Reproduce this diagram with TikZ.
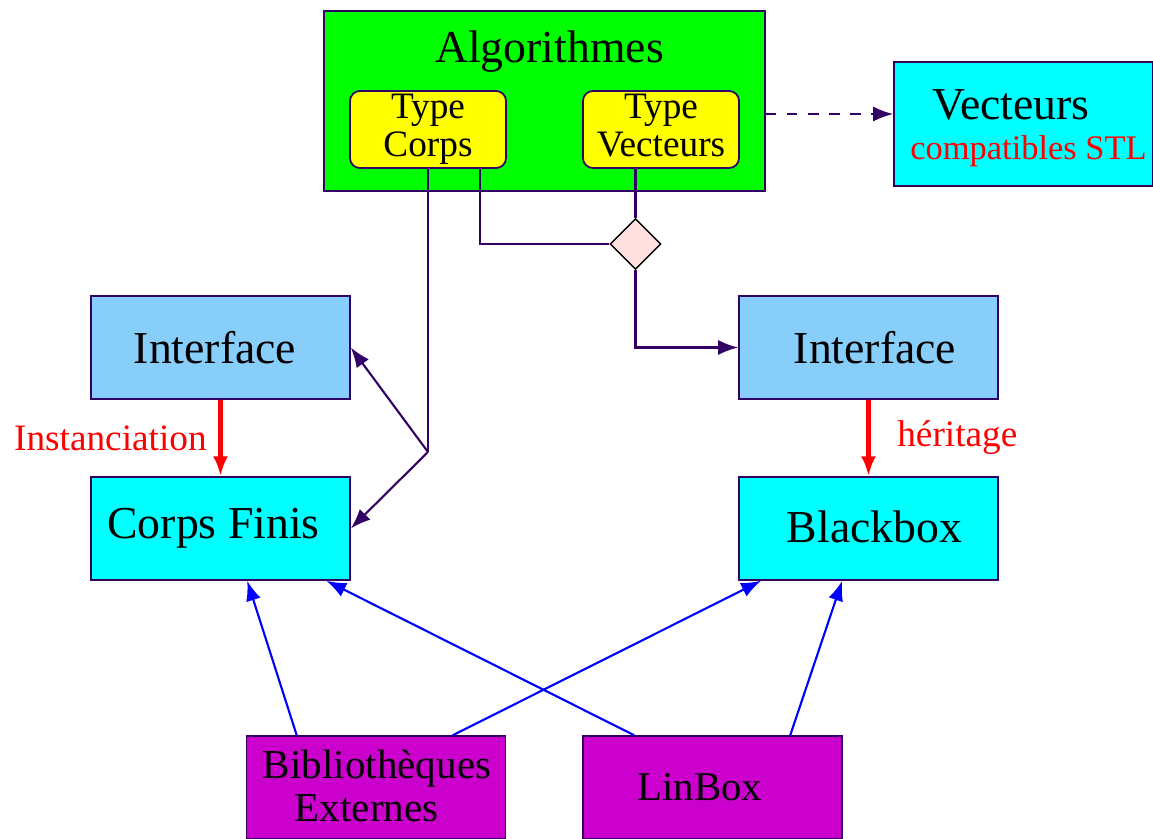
\documentclass[tikz,border=0pt]{standalone}
\usepackage{fontspec}
\setmainfont{Liberation Serif}
\usetikzlibrary{calc}
\usetikzlibrary{arrows.meta}
\usetikzlibrary{shapes.geometric}
\usepackage{xcolor}

\definecolor{lienviolet}{RGB}{51,0,102}
\definecolor{vertalgo}{RGB}{0,255,0}
\definecolor{jaunetype}{RGB}{255,255,0}
\definecolor{cyanboite}{RGB}{0,255,255}
\definecolor{bleuiface}{RGB}{135,206,250}
\definecolor{magentalib}{RGB}{204,0,204}
\definecolor{roselosange}{RGB}{255,224,224}

\begin{document}
\begin{tikzpicture}[x=.01cm, y=-.01cm,
 boite/.style={draw=lienviolet, line width=.4pt, inner sep=0, minimum width=2.59cm, minimum height=1.03cm},
 etiq/.style={font=\fontsize{13}{15}\selectfont},
 typebox/.style={draw=lienviolet, line width=.5pt, fill=jaunetype, rounded corners=.1cm, inner sep=0, minimum width=1.56cm, minimum height=.77cm, align=center, font=\fontsize{10.6}{10.8}\selectfont},
 lien/.style={lienviolet, line width=.6pt},
 herite/.style={->, red, line width=1.2pt},
 impl/.style={->, blue, line width=.6pt},
 >={Latex[length=2mm,width=1.5mm]}]
\useasboundingbox (0,0) rectangle (1153,839);

% bloc des algorithmes et ses deux types
\node[boite, fill=vertalgo, minimum width=4.41cm, minimum height=1.8cm,
 label={[etiq, xshift=.5mm, yshift=-.74cm]north:Algorithmes}] (alg) at (544.5,101) {};
\node[typebox] (tcorps) at (428,129.5) {Type\\Corps};
\node[typebox] (tvect) at (661,129.5) {Type\\Vecteurs\vphantom{p}};
\node[boite, fill=cyanboite, minimum height=1.24cm,
 label={[etiq, align=left, xshift=.5mm, yshift=-.45mm]center:{\hspace*{2.2mm}Vecteurs\\[-3.6pt]{\color{red}\fontsize{9.8}{12}\selectfont compatibles STL}}}] (vect) at (1023.5,124) {};
\node[diamond, draw=black, line width=.4pt, fill=roselosange, inner sep=0, minimum size=.51cm] (los) at (635.5,244) {};

% interfaces et implantations
\node[boite, fill=bleuiface, label={[etiq, xshift=-.55mm]center:Interface}] (ifl) at (220.5,347.5) {};
\node[boite, fill=bleuiface, label={[etiq, xshift=.65mm]center:Interface}] (ifr) at (868.5,347.5) {};
\node[boite, fill=cyanboite, label={[etiq, xshift=-.7mm]center:Corps Finis}] (cf) at (220.5,528.5) {};
\node[boite, fill=cyanboite, label={[etiq, xshift=.6mm, yshift=.2mm]center:Blackbox}] (bb) at (868.5,528.5) {};
\node[boite, fill=magentalib, label={[font=\fontsize{11.7}{12.2}\selectfont, align=left, xshift=.1mm, yshift=.2mm]center:{Biblioth\`eques\\\hspace*{3.2mm}Externes}}] (bib) at (376,787.5) {};
\node[boite, fill=magentalib, label={[font=\fontsize{11.6}{13}\selectfont, xshift=-1.25mm]center:LinBox}] (lin) at (712.5,787.5) {};

% liens du haut
\coordinate (vbout) at ($(vect.west)+(0,-10)$);
\draw[->, lien, dashed] (alg.east |- vbout) -- (vbout);
\coordinate (fourche) at (428,452);
\draw[lien] (tcorps.south) -- (fourche);
\draw[->, lien] (fourche) -- (ifl.east);
\draw[->, lien] (fourche) -- (cf.east);
\draw[lien] (tcorps.south) ++(52,0) |- (los.west);
\draw[lien] (los.north |- tvect.south) -- (los.north);
\draw[->, lien] (los.south) |- (ifr.west);

% instanciation / heritage
\draw[herite] (ifl.south) -- node[left, text=red, font=\fontsize{10.6}{12}\selectfont] {Instanciation} (cf.north);
\draw[herite] (ifr.south) -- node[right, xshift=.15cm, text=red, font=\fontsize{10.6}{12}\selectfont] {h\'eritage} (bb.north);

% bibliotheques vers corps finis et blackbox
\draw[impl] ($(bib.north west)+(51,0)$) -- ($(cf.south west)+(157,0)$);
\draw[impl] ($(bib.north west)+(207,0)$) -- ($(bb.south west)+(23,0)$);
\draw[impl] ($(lin.north west)+(52,0)$) -- ($(cf.south west)+(236,0)$);
\draw[impl] ($(lin.north west)+(208,0)$) -- ($(bb.south west)+(104,0)$);
\end{tikzpicture}
\end{document}
